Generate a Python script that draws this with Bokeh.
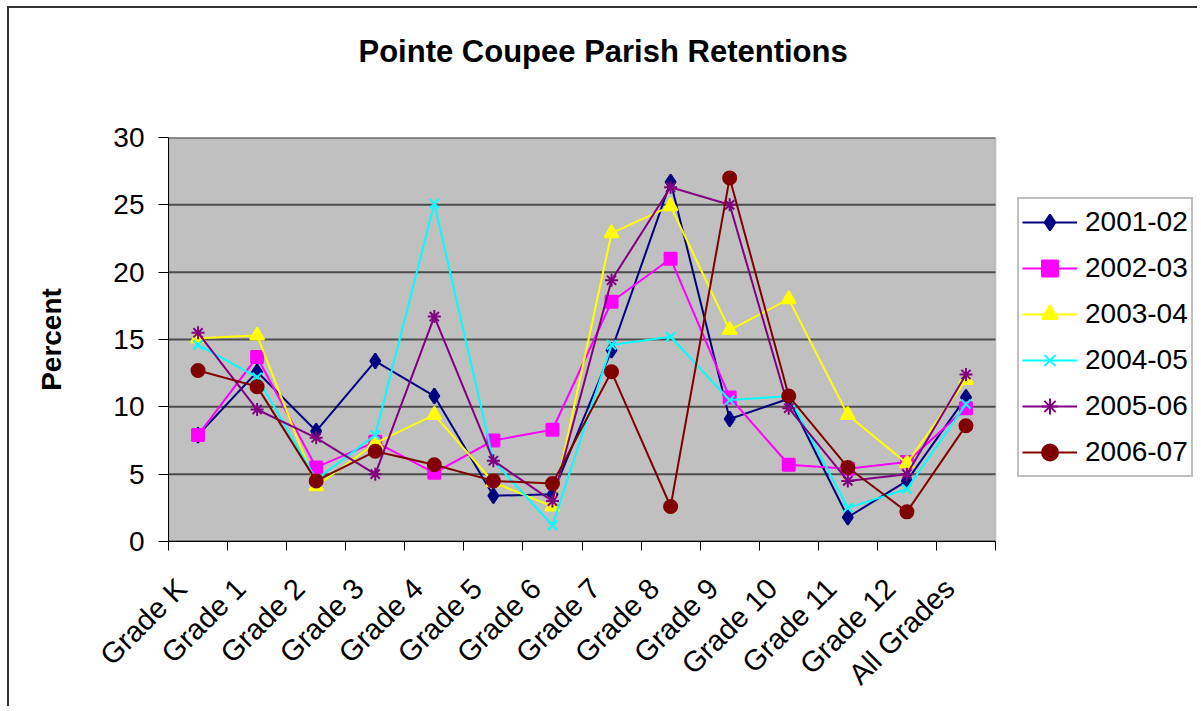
import numpy as np
from bokeh.plotting import figure
from bokeh.models import (FixedTicker, CustomJSTickFormatter, Range1d, Legend,
                          BoxAnnotation, Title)
from bokeh.embed import file_html
from bokeh.resources import INLINE

categories = ["Grade K", "Grade 1", "Grade 2", "Grade 3", "Grade 4", "Grade 5",
              "Grade 6", "Grade 7", "Grade 8", "Grade 9", "Grade 10", "Grade 11",
              "Grade 12", "All Grades"]

y2001_02 = [7.9, 12.6, 8.2, 13.4, 10.8, 3.4, 3.5, 14.2, 26.7, 9.1, 10.6, 1.8, 4.5, 10.7]
y2002_03 = [7.9, 13.7, 5.5, 7.4, 5.1, 7.5, 8.3, 17.8, 21.0, 10.7, 5.7, 5.4, 5.9, 9.9]
y2003_04 = [15.1, 15.3, 4.1, 7.3, 9.4, 4.4, 2.6, 22.9, 24.9, 15.7, 18.0, 9.4, 5.8, 12.0]
y2004_05 = [14.6, 12.2, 4.6, 7.9, 25.1, 6.0, 1.2, 14.6, 15.2, 10.5, 10.8, 2.5, 3.9, 10.2]
y2005_06 = [15.5, 9.8, 7.7, 5.0, 16.7, 6.0, 3.0, 19.4, 26.3, 25.0, 9.9, 4.5, 5.0, 12.4]
y2006_07 = [12.7, 11.5, 4.5, 6.7, 5.7, 4.5, 4.3, 12.6, 2.6, 27.0, 10.8, 5.5, 2.2, 8.6]

series_names = ["2001-02", "2002-03", "2003-04", "2004-05", "2005-06", "2006-07"]
series_values = [y2001_02, y2002_03, y2003_04, y2004_05, y2005_06, y2006_07]
colors = ["#000080", "#FF00FF", "#FFFF00", "#00FFFF", "#800080", "#800000"]
markers = ["diamond", "square", "triangle", "x", "asterisk", "circle"]
msizes = [15, 12, 14, 13, 13, 13]

y_ticks = [0, 5, 10, 15, 20, 25, 30]
Y_MAX = 30

FONT = "Liberation Sans"

n = len(categories)
xs = np.arange(n) + 0.5

# layout: plot area 827 px wide; the frame is widened to the right to hold the legend
PLOT_W = 827
FRAME_W = 1031
x_end = n * FRAME_W / PLOT_W

p = figure(width=1190, height=700, output_backend="svg", toolbar_location=None,
           title_location=None,
           x_range=Range1d(0, x_end), y_range=Range1d(0, Y_MAX),
           min_border_left=159, min_border_right=0, min_border_top=129,
           min_border_bottom=167)
p.styles = {"margin-left": "7px", "margin-top": "6px",
            "border-top": "2px solid #333333", "border-left": "2px solid #333333"}

p.background_fill_color = "white"
p.border_fill_color = "white"
p.outline_line_color = None

# grey plot area
p.add_layout(BoxAnnotation(left=0, right=n, bottom=0, top=Y_MAX,
                           fill_color="#C0C0C0", fill_alpha=1,
                           line_color="#808080", line_width=2, level="underlay"))

# title (with a spacer between it and the plot area)
spacer = Title(text=" ", text_font_size="10px", standoff=56, text_color="white")
p.add_layout(spacer, "above")
main_title = Title(text="Pointe Coupee Parish Retentions", text_font=FONT,
                   text_font_size="31px", text_font_style="bold", text_color="black",
                   align="left", offset=190, standoff=0, vertical_align="bottom")
p.add_layout(main_title, "above")

# x axis: labels at category centres (nudged for the rotated text), tick marks between categories
xa = p.xaxis[0]
xa.bounds = (0, n)
xa.ticker = FixedTicker(ticks=list(xs - 0.28), minor_ticks=list(range(n + 1)))
xa.formatter = CustomJSTickFormatter(args=dict(labels=categories),
                                     code="return labels[Math.floor(tick)] || '';")
xa.major_tick_out = 0
xa.major_tick_in = 0
xa.minor_tick_out = 9
xa.minor_tick_in = 0
xa.minor_tick_line_color = "black"
xa.minor_tick_line_width = 1
xa.axis_line_color = "black"
xa.axis_line_width = 1
xa.major_label_orientation = np.pi / 4
xa.major_label_text_font = FONT
xa.major_label_text_font_size = "29px"
xa.major_label_text_color = "black"
xa.major_label_standoff = 33

# y axis
ya = p.yaxis[0]
ya.ticker = FixedTicker(ticks=y_ticks)
ya.minor_tick_out = 0
ya.minor_tick_in = 0
ya.major_tick_out = 10
ya.major_tick_in = 0
ya.major_tick_line_color = "black"
ya.axis_line_color = "black"
ya.major_label_text_font = FONT
ya.major_label_text_font_size = "28px"
ya.major_label_text_color = "black"
ya.major_label_standoff = 14
ya.axis_label = "Percent"
ya.axis_label_text_font = FONT
ya.axis_label_text_font_size = "28px"
ya.axis_label_text_font_style = "bold"
ya.axis_label_text_color = "black"
ya.axis_label_standoff = 43

# horizontal grid lines limited to the plot area
p.xgrid.visible = False
p.ygrid.visible = False
p.segment(x0=[0] * len(y_ticks), x1=[n] * len(y_ticks), y0=y_ticks, y1=y_ticks,
          line_color="#4d4d4d", line_width=2)

items = []
for name, vals, c, m, s in zip(series_names, series_values, colors, markers, msizes):
    r1 = p.line(xs, vals, line_color=c, line_width=2)
    r2 = p.scatter(xs, vals, marker=m, size=s, fill_color=c, line_color=c,
                   line_width=2)
    items.append((name, [r1, r2]))

legend = Legend(items=items, location=(849, 64))
legend.label_text_font = FONT
legend.label_text_font_size = "28px"
legend.label_text_color = "black"
legend.glyph_width = 55
legend.glyph_height = 40
legend.label_height = 40
legend.label_standoff = 8
legend.spacing = 6
legend.padding = 3
legend.margin = 0
legend.border_line_color = "#808080"
legend.border_line_width = 2
legend.background_fill_color = "white"
legend.background_fill_alpha = 1
p.add_layout(legend, "center")

open("out.html", "w").write(file_html(p, INLINE))
